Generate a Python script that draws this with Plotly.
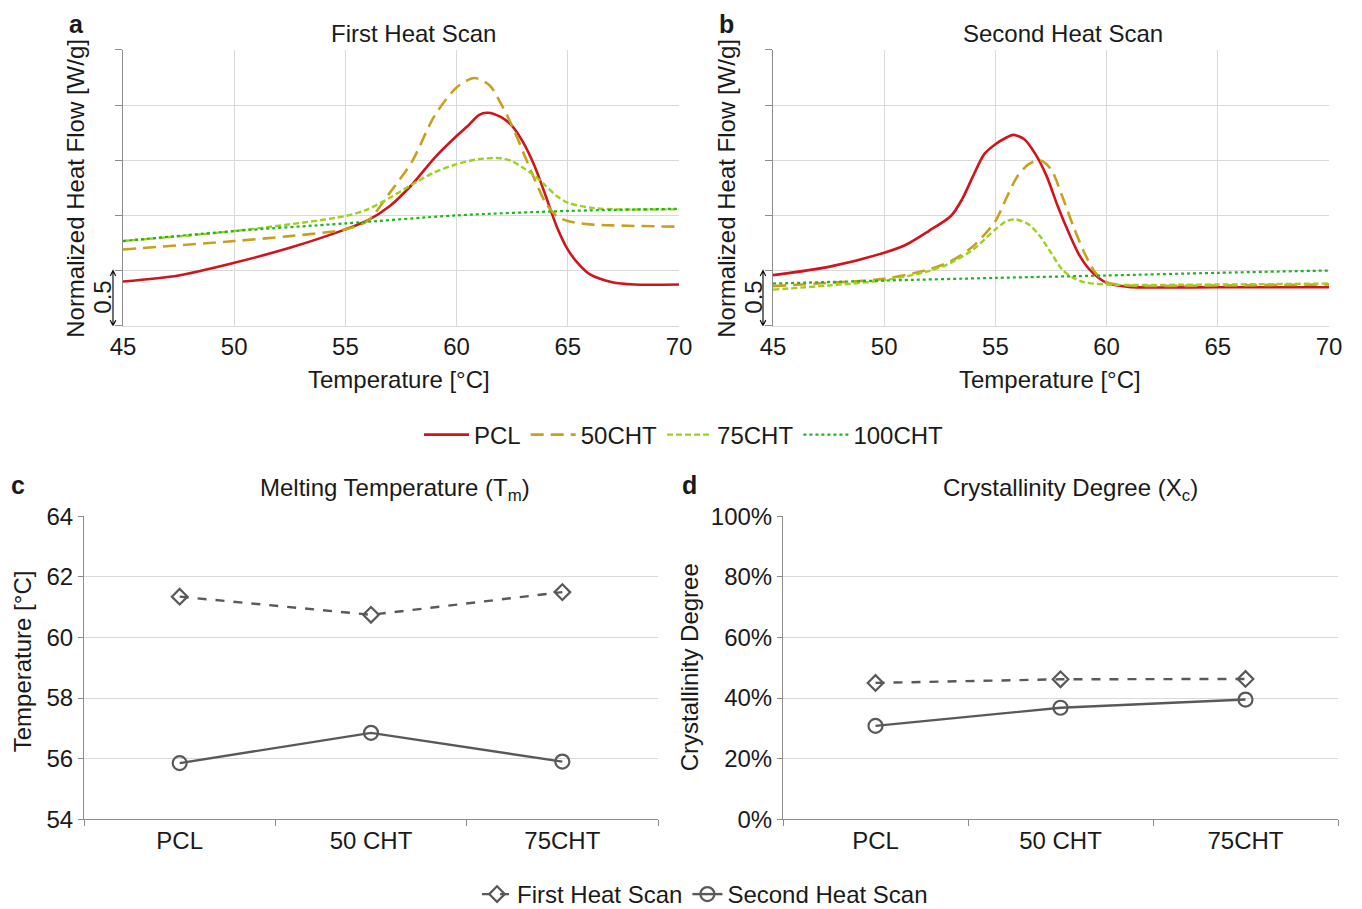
import plotly.graph_objects as go

W, H = 1362, 909

# ---------------- Panel a: First heat scan ----------------
a_pcl_t = [45, 47.5, 50, 52.5, 55, 56, 57, 58, 59, 60, 60.5, 61, 61.4, 62, 62.5, 63, 63.5, 64, 64.5, 65, 65.5, 66, 67, 68, 70]
a_pcl_q = [0.40, 0.455, 0.57, 0.706, 0.873, 0.955, 1.085, 1.28, 1.52, 1.72, 1.81, 1.91, 1.93, 1.89, 1.81, 1.66, 1.45, 1.18, 0.90, 0.69, 0.555, 0.464, 0.394, 0.373, 0.373]

a_50_t = [45, 50, 52.5, 55, 56, 57, 58, 59, 60, 60.8, 61.5, 62, 62.5, 63, 63.5, 64, 64.5, 65, 66, 67, 70]
a_50_q = [0.69, 0.767, 0.812, 0.873, 0.95, 1.206, 1.49, 1.90, 2.16, 2.245, 2.176, 2.01, 1.81, 1.57, 1.33, 1.115, 0.994, 0.948, 0.918, 0.909, 0.897]

a_75_t = [45, 50, 55, 56, 57, 58, 59, 60, 61, 62, 62.5, 63, 63.5, 64, 64.5, 65, 66, 67, 70]
a_75_q = [0.767, 0.858, 0.994, 1.055, 1.16, 1.28, 1.39, 1.464, 1.51, 1.518, 1.49, 1.43, 1.36, 1.27, 1.176, 1.115, 1.07, 1.055, 1.055]

a_100_t = [45, 50, 55, 60, 65, 70]
a_100_q = [0.767, 0.858, 0.927, 1.0, 1.04, 1.06]

# ---------------- Panel b: Second heat scan ----------------
b_pcl_t = [45, 47.5, 50, 51, 52, 53, 53.5, 54, 54.5, 55, 55.5, 55.8, 56.3, 56.8, 57.3, 57.8, 58.3, 58.8, 59.3, 60, 61, 65, 70]
b_pcl_q = [0.458, 0.533, 0.661, 0.736, 0.858, 0.994, 1.145, 1.358, 1.555, 1.645, 1.706, 1.73, 1.69, 1.555, 1.358, 1.085, 0.842, 0.63, 0.494, 0.388, 0.352, 0.348, 0.348]

b_50_t = [45, 47.5, 50, 52, 53, 54, 55, 55.5, 56, 56.5, 57, 57.5, 58, 58.5, 59, 59.5, 60, 61, 65, 70]
b_50_q = [0.358, 0.388, 0.424, 0.509, 0.585, 0.721, 0.948, 1.16, 1.358, 1.464, 1.5, 1.418, 1.176, 0.903, 0.661, 0.479, 0.394, 0.364, 0.364, 0.373]

b_75_t = [45, 47.5, 50, 52, 53, 54, 55, 55.5, 55.9, 56.5, 57, 57.5, 58, 58.5, 59, 60, 65, 70]
b_75_q = [0.327, 0.364, 0.412, 0.494, 0.57, 0.691, 0.873, 0.948, 0.964, 0.918, 0.812, 0.661, 0.509, 0.433, 0.394, 0.373, 0.373, 0.382]

b_100_t = [45, 50, 55, 60, 65, 70]
b_100_q = [0.382, 0.409, 0.433, 0.455, 0.479, 0.5]

series_names = ["PCL", "50CHT", "75CHT", "100CHT"]

# ---------------- Panels c, d ----------------
samples = ["PCL", "50 CHT", "75CHT"]
tm_first = [61.35, 60.75, 61.5]
tm_second = [55.85, 56.85, 55.9]
xc_first = [0.450, 0.462, 0.463]
xc_second = [0.308, 0.368, 0.395]

# ---------------- styling ----------------
FONT = "Liberation Sans, Arial, sans-serif"
TXT = "#1a1a1a"
GRID = "#d9d9d9"
AXL = "#8c8c8c"
COL = ["#D0141C", "#C9A01E", "#9AD21E", "#1FB41F"]
DASH = ["solid", "13px,7px", "6px,3px", "dot"]
WID = [2.6, 2.6, 2.4, 2.2]
GRAY = "#595959"
FS = 24
OFF = 8  # page body margin of the html document

def px(x):
    return (x - OFF) / W

def py(y):
    return 1 - (y - OFF) / H

fig = go.Figure()

heat_a = [(a_pcl_t, a_pcl_q), (a_50_t, a_50_q), (a_75_t, a_75_q), (a_100_t, a_100_q)]
heat_b = [(b_pcl_t, b_pcl_q), (b_50_t, b_50_q), (b_75_t, b_75_q), (b_100_t, b_100_q)]

for i, (t, q) in enumerate(heat_a):
    fig.add_trace(go.Scatter(x=t, y=q, mode="lines", name=series_names[i],
                             line=dict(color=COL[i], dash=DASH[i], width=WID[i], shape="spline", smoothing=0.8),
                             xaxis="x", yaxis="y", legend="legend", showlegend=True))
for i, (t, q) in enumerate(heat_b):
    fig.add_trace(go.Scatter(x=t, y=q, mode="lines", name=series_names[i],
                             line=dict(color=COL[i], dash=DASH[i], width=WID[i], shape="spline", smoothing=0.8),
                             xaxis="x2", yaxis="y2", legend="legend", showlegend=False))

mk_first = dict(symbol="diamond-open", size=12, color=GRAY, line=dict(width=2.2, color=GRAY))
mk_second = dict(symbol="circle-open", size=14, color=GRAY, line=dict(width=2.2, color=GRAY))

# panel c
fig.add_trace(go.Scatter(x=samples, y=tm_first, mode="lines+markers", name="First Heat Scan",
                         line=dict(color=GRAY, width=2.4, dash="dash"), marker=mk_first,
                         xaxis="x3", yaxis="y3", legend="legend2"))
fig.add_trace(go.Scatter(x=samples, y=tm_second, mode="lines+markers", name="Second Heat Scan",
                         line=dict(color=GRAY, width=2.4), marker=mk_second,
                         xaxis="x3", yaxis="y3", legend="legend2"))
# panel d
fig.add_trace(go.Scatter(x=samples, y=xc_first, mode="lines+markers", name="First Heat Scan",
                         line=dict(color=GRAY, width=2.4, dash="dash"), marker=mk_first,
                         xaxis="x4", yaxis="y4", legend="legend2", showlegend=False))
fig.add_trace(go.Scatter(x=samples, y=xc_second, mode="lines+markers", name="Second Heat Scan",
                         line=dict(color=GRAY, width=2.4), marker=mk_second,
                         xaxis="x4", yaxis="y4", legend="legend2", showlegend=False))

tickfont = dict(family=FONT, size=FS, color=TXT)

def heat_x(dom, anchor):
    return dict(domain=dom, anchor=anchor, range=[45, 70], dtick=5, tick0=45,
                showgrid=True, gridcolor=GRID, gridwidth=1, zeroline=False,
                showline=True, linecolor=GRID, linewidth=1, ticks="",
                tickfont=tickfont, fixedrange=True, automargin=False)

def heat_y(dom, anchor):
    return dict(domain=dom, anchor=anchor, range=[0, 2.5], dtick=0.5, tick0=0,
                showgrid=True, gridcolor=GRID, gridwidth=1, zeroline=False,
                showline=True, linecolor=AXL, linewidth=1, ticks="outside", ticklen=7,
                tickcolor=AXL, showticklabels=False, fixedrange=True, automargin=False)

def cat_x(dom, anchor):
    return dict(domain=dom, anchor=anchor, type="category", range=[-0.5, 2.5],
                showgrid=False, zeroline=False, showline=True, linecolor=AXL, linewidth=1,
                ticks="outside", ticklen=6, tickcolor=AXL, tickson="boundaries",
                tickfont=tickfont, fixedrange=True, automargin=False)

def val_y(dom, anchor, rng, dt, fmt=None):
    d = dict(domain=dom, anchor=anchor, range=rng, dtick=dt, tick0=rng[0],
             showgrid=True, gridcolor=GRID, zeroline=False, showline=True, linecolor=AXL,
             ticks="outside", ticklen=5, tickcolor=AXL, tickfont=tickfont, fixedrange=True,
             automargin=False)
    if fmt:
        d["tickformat"] = fmt
    return d

ydom_top = [py(326), py(50)]
ydom_bot = [py(820), py(517)]

fig.update_layout(
    width=W, height=H,
    margin=dict(l=0, r=0, t=0, b=0, pad=0),
    paper_bgcolor="white", plot_bgcolor="white",
    font=dict(family=FONT, color=TXT),
    xaxis=heat_x([px(123), px(679)], "y"),
    yaxis=heat_y(ydom_top, "x"),
    xaxis2=heat_x([px(773), px(1329)], "y2"),
    yaxis2=heat_y(ydom_top, "x2"),
    xaxis3=cat_x([px(84), px(658)], "y3"),
    yaxis3=val_y(ydom_bot, "x3", [54, 64], 2),
    xaxis4=cat_x([px(783), px(1338)], "y4"),
    yaxis4=val_y(ydom_bot, "x4", [0, 1], 0.2, ".0%"),
    legend=dict(orientation="h", x=px(684), xanchor="center", y=py(435), yanchor="middle",
                font=dict(family=FONT, size=FS, color=TXT), bgcolor="rgba(0,0,0,0)",
                itemwidth=45, tracegroupgap=0),
    legend2=dict(orientation="h", x=px(705), xanchor="center", y=py(895), yanchor="middle",
                 font=dict(family=FONT, size=FS, color=TXT), bgcolor="rgba(0,0,0,0)",
                 itemwidth=30),
    showlegend=True,
)

ann = []

def text(x, y, s, size=FS, angle=0, bold=False, yanchor="middle"):
    ann.append(dict(x=px(x), y=py(y), xref="paper", yref="paper", text=("<b>%s</b>" % s) if bold else s,
                    showarrow=False, textangle=angle, xanchor="center", yanchor=yanchor,
                    font=dict(family=FONT, size=size, color=TXT)))

# panel labels
text(76, 8, "a", 25, bold=True, yanchor="top")
text(726, 8, "b", 25, bold=True, yanchor="top")
text(18, 486, "c", 25, bold=True)
text(689, 486, "d", 25, bold=True)
# subplot titles
text(413, 34, "First Heat Scan")
text(1063, 34, "Second Heat Scan")
text(395, 490, "Melting Temperature (T<sub>m</sub>)")
text(1070, 490, "Crystallinity Degree (X<sub>c</sub>)")
# axis titles
text(76, 189, "Normalized Heat Flow [W/g]", angle=-90)
text(727, 189, "Normalized Heat Flow [W/g]", angle=-90)
text(399, 380, "Temperature [°C]")
text(1050, 380, "Temperature [°C]")
text(22, 662, "Temperature [°C]", angle=-90)
text(689, 668, "Crystallinity Degree", angle=-90)
# scale bar labels
text(103, 298, "0.5", angle=-90)
text(754, 298, "0.5", angle=-90)

fig.update_layout(annotations=ann)

# scale bars (0.5 W/g) with small arrowheads
bx = -0.018
for xa, ya in [("x", "y"), ("x2", "y2")]:
    path = ("M %f,0 L %f,0.5 "
            "M %f,0.05 L %f,0 L %f,0.05 "
            "M %f,0.45 L %f,0.5 L %f,0.45") % (bx, bx, bx - 0.005, bx, bx + 0.005,
                                                  bx - 0.005, bx, bx + 0.005)
    fig.add_shape(type="path", path=path, xref=xa + " domain", yref=ya,
                  line=dict(color="#111111", width=1.2), layer="above")

fig.write_html("out.html")
